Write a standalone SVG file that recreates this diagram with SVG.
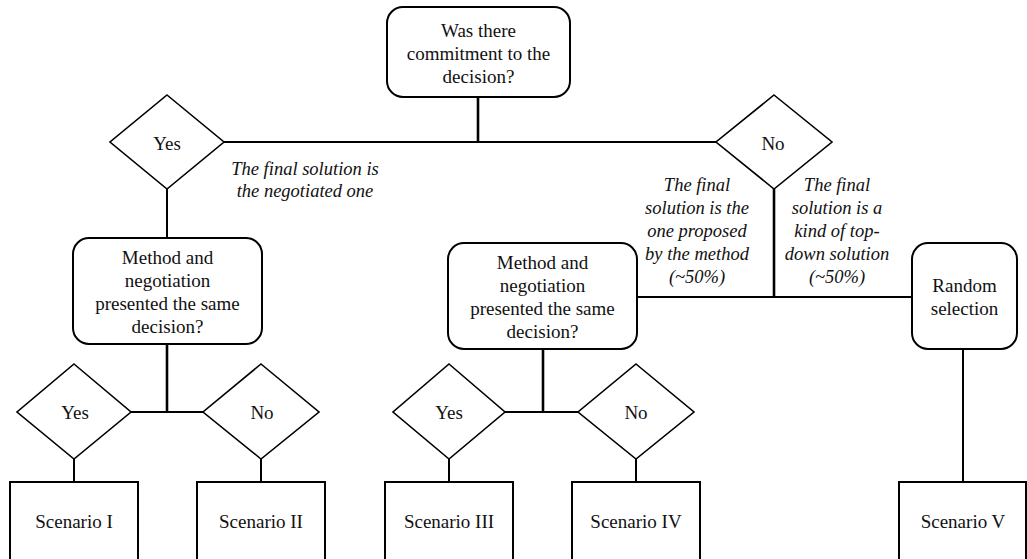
<svg xmlns="http://www.w3.org/2000/svg" width="1027" height="559" viewBox="0 0 1027 559" font-family="Liberation Serif, Times New Roman, DejaVu Serif, serif">
<style>
.box{fill:#fff;stroke:#000;stroke-width:2}
.dia{fill:#fff;stroke:#000;stroke-width:1.6}
.ln{stroke:#000;stroke-width:2;fill:none}
.vt{stroke:#000;stroke-width:2.6;fill:none}
.t{font-size:19px;fill:#111;text-anchor:middle}
.i{font-size:18.5px;font-style:italic;fill:#111;text-anchor:middle}
</style>
<rect width="1027" height="559" fill="#fff"/>
<g id="connectors">
<line class="vt" x1="478" y1="97" x2="478" y2="143"/>
<line class="ln" x1="223" y1="142" x2="717" y2="142"/>
<line class="ln" x1="167" y1="189" x2="167" y2="238"/>
<line class="vt" x1="774" y1="189" x2="774" y2="298"/>
<line class="ln" x1="637" y1="297" x2="912" y2="297"/>
<line class="vt" x1="167" y1="344" x2="167" y2="413"/>
<line class="ln" x1="130" y1="412" x2="203" y2="412"/>
<line class="vt" x1="543" y1="349" x2="543" y2="413"/>
<line class="ln" x1="505" y1="412" x2="579" y2="412"/>
<line class="ln" x1="74" y1="459" x2="74" y2="482"/>
<line class="ln" x1="261" y1="459" x2="261" y2="482"/>
<line class="ln" x1="449" y1="459" x2="449" y2="482"/>
<line class="ln" x1="636" y1="459" x2="636" y2="482"/>
<line class="ln" x1="963" y1="349" x2="963" y2="482"/>
</g>
<g id="q-commitment">
<rect class="box" x="387" y="7" width="183" height="90" rx="16"/>
<text class="t" x="478.5" y="37">Was there</text>
<text class="t" x="478.5" y="60">commitment to the</text>
<text class="t" x="478.5" y="83">decision?</text>
</g>
<g id="yes-top">
<polygon class="dia" points="167,95 224,142 167,189 110,142"/>
<text class="t" x="167" y="150">Yes</text>
</g>
<g id="no-top">
<polygon class="dia" points="774,95 832,142 774,189 716,142"/>
<text class="t" x="773" y="150">No</text>
</g>
<g id="label-negotiated">
<text class="i" x="305" y="175">The final solution is</text>
<text class="i" x="305" y="197">the negotiated one</text>
</g>
<g id="label-method">
<text class="i" x="697" y="191">The final</text>
<text class="i" x="697" y="214">solution is the</text>
<text class="i" x="697" y="237">one proposed</text>
<text class="i" x="697" y="260">by the method</text>
<text class="i" x="697" y="283">(~50%)</text>
</g>
<g id="label-topdown">
<text class="i" x="837" y="191">The final</text>
<text class="i" x="837" y="214">solution is a</text>
<text class="i" x="837" y="237">kind of top-</text>
<text class="i" x="837" y="260">down solution</text>
<text class="i" x="837" y="283">(~50%)</text>
</g>
<g id="q-same-1">
<rect class="box" x="73" y="238" width="189" height="106" rx="16"/>
<text class="t" x="167.5" y="264">Method and</text>
<text class="t" x="167.5" y="287">negotiation</text>
<text class="t" x="167.5" y="310">presented the same</text>
<text class="t" x="167.5" y="333">decision?</text>
</g>
<g id="q-same-2">
<rect class="box" x="448" y="243" width="189" height="106" rx="16"/>
<text class="t" x="542.5" y="269">Method and</text>
<text class="t" x="542.5" y="292">negotiation</text>
<text class="t" x="542.5" y="315">presented the same</text>
<text class="t" x="542.5" y="338">decision?</text>
</g>
<g id="random">
<rect class="box" x="912" y="243" width="105" height="106" rx="16"/>
<text class="t" x="964.5" y="292">Random</text>
<text class="t" x="964.5" y="315">selection</text>
</g>
<g id="yes-1">
<polygon class="dia" points="74,364 131,412 74,459 17,412"/>
<text class="t" x="75" y="419">Yes</text>
</g>
<g id="no-1">
<polygon class="dia" points="261,364 319,412 261,459 203,412"/>
<text class="t" x="262" y="419">No</text>
</g>
<g id="yes-2">
<polygon class="dia" points="449,364 505,412 449,459 393,412"/>
<text class="t" x="449" y="419">Yes</text>
</g>
<g id="no-2">
<polygon class="dia" points="636,364 694,412 636,459 578,412"/>
<text class="t" x="636" y="419">No</text>
</g>
<g id="scenario-1">
<rect class="box" x="10" y="482" width="128" height="90"/>
<text class="t" x="74" y="528">Scenario I</text>
</g>
<g id="scenario-2">
<rect class="box" x="197" y="482" width="128" height="90"/>
<text class="t" x="261" y="528">Scenario II</text>
</g>
<g id="scenario-3">
<rect class="box" x="385" y="482" width="128" height="90"/>
<text class="t" x="449" y="528">Scenario III</text>
</g>
<g id="scenario-4">
<rect class="box" x="572" y="482" width="128" height="90"/>
<text class="t" x="636" y="528">Scenario IV</text>
</g>
<g id="scenario-5">
<rect class="box" x="899" y="482" width="127" height="90"/>
<text class="t" x="963" y="528">Scenario V</text>
</g>
</svg>
